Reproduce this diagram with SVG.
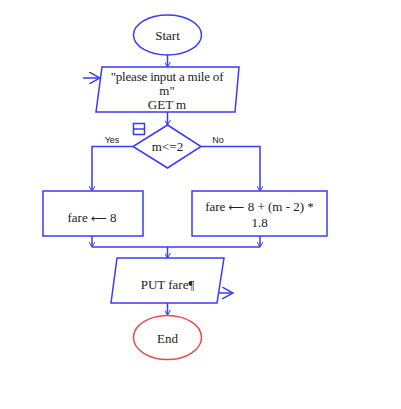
<svg xmlns="http://www.w3.org/2000/svg" width="401" height="409" viewBox="0 0 401 409">
<style>
.s{fill:#fff;stroke:#3b3bf5;stroke-width:1.5}
.e{fill:#fff;stroke:#f04848;stroke-width:1.5}
.c{fill:none;stroke:#3b3bf5;stroke-width:1.5}
.t{font-family:"Liberation Serif","DejaVu Serif",serif;font-size:13px;fill:#222;text-anchor:middle}
.ar{font-family:"DejaVu Sans",sans-serif;font-size:11px}
.l{font-family:"Liberation Sans",sans-serif;font-size:9px;fill:#222;text-anchor:middle}
</style>
<defs>
<marker id="a" viewBox="0 0 6 6" refX="5" refY="3" markerWidth="6" markerHeight="6" markerUnits="userSpaceOnUse" orient="auto">
<path d="M0,0 L5,3 L0,6" fill="none" stroke="#3b3bf5" stroke-width="1"/>
</marker>
<marker id="b" viewBox="0 0 12 12" refX="11" refY="6" markerWidth="12" markerHeight="12" markerUnits="userSpaceOnUse" orient="auto">
<path d="M0,0 L11,6 L0,12" fill="none" stroke="#3b3bf5" stroke-width="1.5"/>
</marker>
</defs>
<rect width="401" height="409" fill="#fff"/>
<g id="connectors">
<path class="c" d="M167.5,55 V67" marker-end="url(#a)"/>
<path class="c" d="M83,78 H100" marker-end="url(#b)"/>
<path class="c" d="M167.5,112 V125" marker-end="url(#a)"/>
<path class="c" d="M133,146.5 H92 V191" marker-end="url(#a)"/>
<path class="c" d="M201,146.5 H260 V191" marker-end="url(#a)"/>
<path class="c" d="M92,236 V247" marker-end="url(#a)"/>
<path class="c" d="M260,236 V247" marker-end="url(#a)"/>
<path class="c" d="M92,247 H260"/>
<path class="c" d="M167.5,247 V258" marker-end="url(#a)"/>
<path class="c" d="M218,293 H233" marker-end="url(#b)"/>
<path class="c" d="M167.5,303 V315" marker-end="url(#a)"/>
</g>
<g id="start">
<ellipse class="s" cx="167.5" cy="35" rx="34" ry="20"/>
<text class="t" x="167.5" y="40">Start</text>
</g>
<g id="input">
<polygon class="s" points="102,67 239,67 235,112 96,112"/>
<text class="t" x="167" y="81" letter-spacing="-0.2">"please input a mile of</text>
<text class="t" x="167" y="95">m"</text>
<text class="t" x="167" y="109">GET m</text>
</g>
<g id="decision">
<polygon class="s" points="167.5,125 201,146.5 167.5,168 133,146.5"/>
<text class="t" x="167.5" y="151">m&lt;=2</text>
<rect class="s" x="133.5" y="123.5" width="11" height="11"/>
<line class="c" x1="133.5" y1="129" x2="144.5" y2="129"/>
<text class="l" x="112" y="143">Yes</text>
<text class="l" x="218" y="143">No</text>
</g>
<g id="yesbox">
<rect class="s" x="43" y="191" width="100" height="45"/>
<text class="t" x="92" y="222">fare <tspan class="ar">⟵</tspan> 8</text>
</g>
<g id="nobox">
<rect class="s" x="192" y="191" width="135" height="45"/>
<text class="t" x="259.5" y="211">fare <tspan class="ar">⟵</tspan> 8 + (m - 2) *</text>
<text class="t" x="259.5" y="227">1.8</text>
</g>
<g id="output">
<polygon class="s" points="117,258 224,258 217,303 111,303"/>
<text class="t" x="167.5" y="289">PUT fare¶</text>
</g>
<g id="end">
<ellipse class="e" cx="167.5" cy="337.5" rx="34" ry="22"/>
<text class="t" x="167.5" y="343">End</text>
</g>
</svg>
